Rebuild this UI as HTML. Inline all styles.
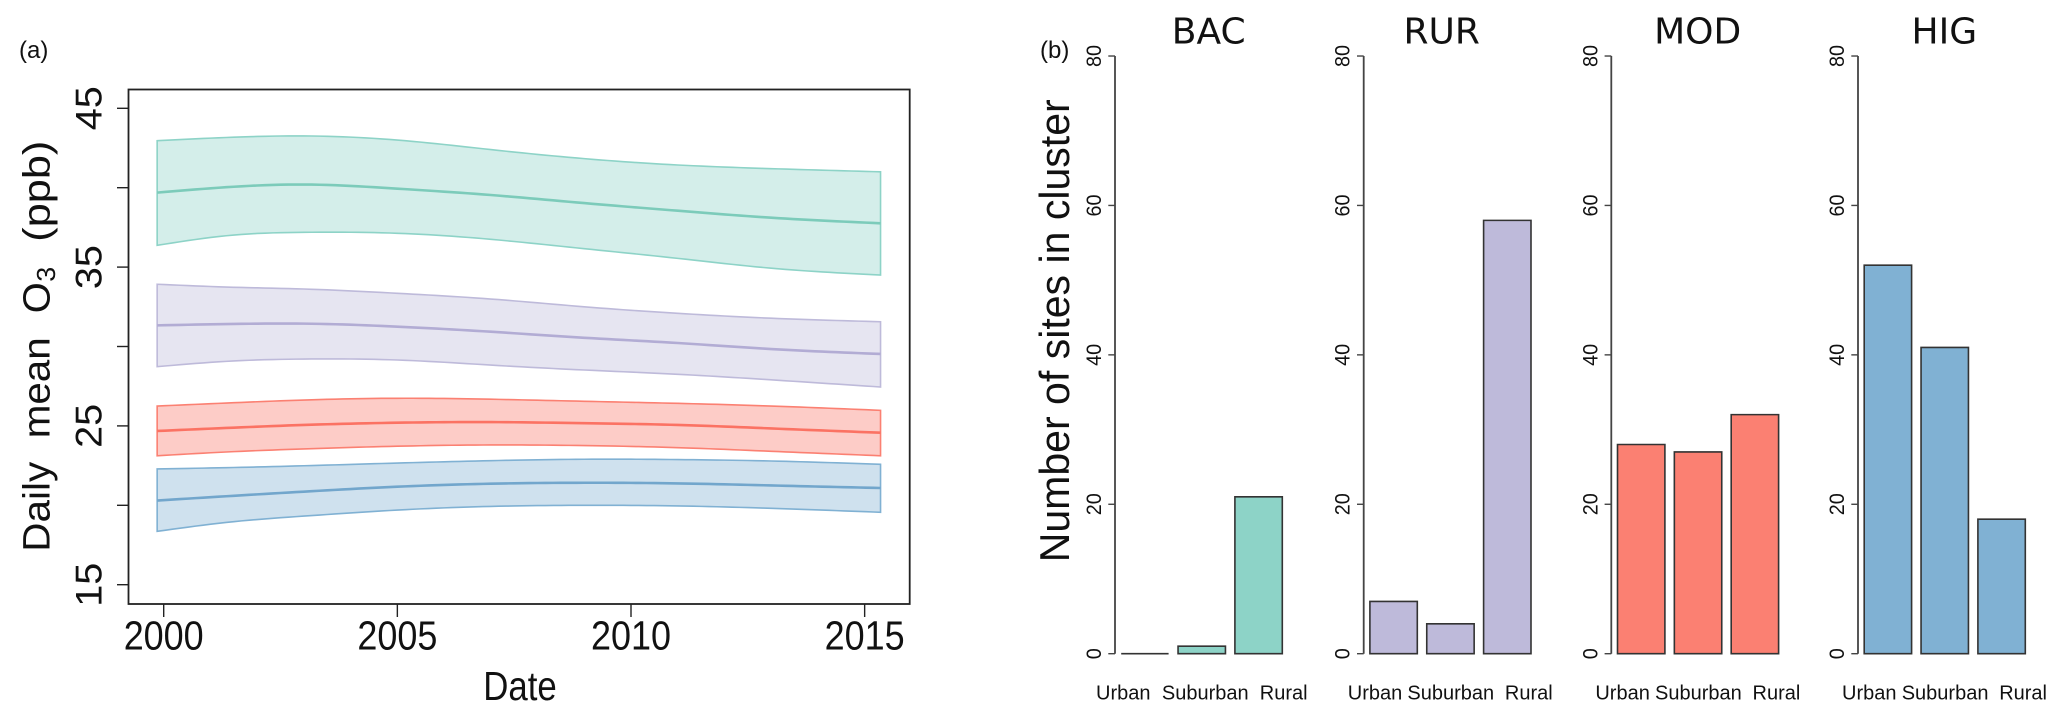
<!DOCTYPE html>
<html lang="en">
<head>
<meta charset="utf-8">
<title>Daily mean ozone trends and site counts by cluster</title>
<style>
html,body{margin:0;padding:0;background:#fff;width:2067px;height:718px;overflow:hidden}
svg{display:block}
text{font-family:"Liberation Sans",Arial,sans-serif;fill:#111}
.ver{font-family:"DejaVu Sans",Verdana,sans-serif}
</style>
</head>
<body>
<svg id="figure" xmlns="http://www.w3.org/2000/svg" width="2067" height="718" viewBox="0 0 2067 718">
  <rect x="0" y="0" width="2067" height="718" fill="#fff"/>
  <text x="19" y="58" font-size="24">(a)</text>
  <text x="1040" y="58" font-size="24">(b)</text>
  <g id="panel-a">
    <rect x="128.5" y="89.5" width="781.2" height="514.5" fill="none" stroke="#222" stroke-width="1.8"/>
    <g id="bands"></g>
    <g id="a-axes"></g>
    <text x="520" y="700" font-size="41" text-anchor="middle" textLength="73.5" lengthAdjust="spacingAndGlyphs">Date</text>
    <g>
      <text transform="translate(49.3,551.7) rotate(-90)" font-size="38" textLength="90" lengthAdjust="spacingAndGlyphs">Daily</text>
      <text transform="translate(49.3,438.3) rotate(-90)" font-size="38" textLength="101" lengthAdjust="spacingAndGlyphs">mean</text>
      <text transform="translate(49.3,313.3) rotate(-90)" font-size="38" textLength="31" lengthAdjust="spacingAndGlyphs">O</text>
      <text transform="translate(55,281.7) rotate(-90)" font-size="26" textLength="15" lengthAdjust="spacingAndGlyphs">3</text>
      <text transform="translate(49.3,241.7) rotate(-90)" font-size="38" textLength="101" lengthAdjust="spacingAndGlyphs">(ppb)</text>
    </g>
  </g>
  <g id="panel-b">
    <text transform="translate(1069,562.3) rotate(-90)" font-size="42" textLength="463" lengthAdjust="spacingAndGlyphs">Number of sites in cluster</text>
  </g>
</svg>
<script>
// ----- Panel (a) data: daily mean O3 (ppb) -----
const years = [1999.86, 2001.5, 2003, 2005, 2007, 2009, 2011, 2013, 2015.34];
const bacUpper = [42.96, 43.18, 43.26, 43.0, 42.4, 41.83, 41.43, 41.2, 41.0];
const bacMean  = [39.69, 40.06, 40.2, 39.94, 39.54, 39.03, 38.55, 38.11, 37.76];
const bacLower = [36.37, 37.02, 37.19, 37.13, 36.75, 36.16, 35.55, 34.93, 34.5];
const rurUpper = [33.92, 33.73, 33.62, 33.35, 32.99, 32.5, 32.09, 31.78, 31.56];
const rurMean  = [31.33, 31.42, 31.44, 31.25, 30.93, 30.55, 30.22, 29.84, 29.53];
const rurLower = [28.73, 29.09, 29.21, 29.15, 28.83, 28.52, 28.25, 27.9, 27.45];
const modUpper = [26.25, 26.46, 26.63, 26.74, 26.68, 26.55, 26.42, 26.25, 25.98];
const modMean  = [24.68, 24.89, 25.06, 25.2, 25.24, 25.17, 25.06, 24.84, 24.57];
const modLower = [23.12, 23.38, 23.55, 23.72, 23.8, 23.76, 23.63, 23.4, 23.12];
const higUpper = [22.29, 22.38, 22.49, 22.66, 22.81, 22.9, 22.88, 22.79, 22.58];
const higMean  = [20.3, 20.6, 20.86, 21.17, 21.36, 21.42, 21.38, 21.25, 21.09];
const higLower = [18.36, 18.97, 19.32, 19.7, 19.93, 20.0, 19.96, 19.81, 19.56];
const xTickLabels = [2000, 2005, 2010, 2015];
const yTicks = [15, 20, 25, 30, 35, 40, 45];
const yTickLabels = [15, 25, 35, 45];

// ----- Panel (b) data: number of sites -----
const clusters = ['BAC', 'RUR', 'MOD', 'HIG'];
const siteTypes = ['Urban', 'Suburban', 'Rural'];
const bacCounts = [0, 1, 21];
const rurCounts = [7, 4, 58];
const modCounts = [28, 27, 32];
const higCounts = [52, 41, 18];
const countTicks = [0, 20, 40, 60, 80];

const NS = 'http://www.w3.org/2000/svg';
const COLORS = {BAC: '#8dd3c7', RUR: '#bebada', MOD: '#fb8072', HIG: '#80b1d3'};
const MEAN_COLORS = {BAC: '#7ccbba', RUR: '#b2acd4', MOD: '#fb7263', HIG: '#72a6cc'};

// axis functions
function xScale(year) { return 163.7 + (year - 2000) * 46.73; }
function yScale(ppb) { return 108.3 + (45 - ppb) * 15.88; }
function countScale(n) { return 653.7 - n * 7.471; }

function mk(tag, parent) {
  const el = document.createElementNS(NS, tag);
  parent.appendChild(el);
  return el;
}

// natural cubic spline through the read values, evaluated on a fine year step
function smooth(values) {
  const n = years.length, h = [], a = new Array(n).fill(0), c = new Array(n).fill(0), m = new Array(n).fill(0);
  for (let i = 0; i < n - 1; i++) { h[i] = years[i + 1] - years[i]; }
  const d = new Array(n).fill(0), b = new Array(n).fill(1);
  for (let i = 1; i < n - 1; i++) {
    a[i] = h[i - 1];
    b[i] = 2 * (h[i - 1] + h[i]);
    c[i] = h[i];
    d[i] = 6 * ((values[i + 1] - values[i]) / h[i] - (values[i] - values[i - 1]) / h[i - 1]);
  }
  for (let i = 1; i < n; i++) {
    const f = a[i] / b[i - 1];
    b[i] -= f * c[i - 1];
    d[i] -= f * d[i - 1];
  }
  m[n - 1] = d[n - 1] / b[n - 1];
  for (let i = n - 2; i >= 0; i--) { m[i] = (d[i] - c[i] * m[i + 1]) / b[i]; }
  const pts = [];
  for (let i = 0; i < n - 1; i++) {
    const steps = Math.ceil(h[i] * 6);
    for (let s = 0; s < steps; s++) {
      const t = years[i] + h[i] * s / steps;
      const A = (years[i + 1] - t) / h[i], B = (t - years[i]) / h[i];
      const v = A * values[i] + B * values[i + 1] + ((A * A * A - A) * m[i] + (B * B * B - B) * m[i + 1]) * h[i] * h[i] / 6;
      pts.push([xScale(t), yScale(v)]);
    }
  }
  pts.push([xScale(years[n - 1]), yScale(values[n - 1])]);
  return pts;
}
function pointsToPath(pts) {
  return pts.map(function (p, i) {
    return (i ? 'L' : 'M') + p[0].toFixed(2) + ' ' + p[1].toFixed(2);
  }).join(' ');
}

// bands and mean lines
const bandsGroup = document.getElementById('bands');
function drawBand(key, upper, mean, lower) {
  const color = COLORS[key];
  const up = smooth(upper), low = smooth(lower).reverse(), mid = smooth(mean);
  const band = mk('path', bandsGroup);
  
  
  band.setAttribute('d', pointsToPath(up.concat(low)) + ' Z');
  band.setAttribute('fill', color);
  band.setAttribute('fill-opacity', key === 'MOD' ? '0.4' : '0.38');
  band.setAttribute('stroke', color);
  band.setAttribute('stroke-width', '1.6');
  band.setAttribute('stroke-linejoin', 'miter');
  const line = mk('path', bandsGroup);
  
  
  line.setAttribute('d', pointsToPath(mid));
  line.setAttribute('fill', 'none');
  line.setAttribute('stroke', MEAN_COLORS[key]);
  line.setAttribute('stroke-width', '2.6');
}
drawBand('BAC', bacUpper, bacMean, bacLower);
drawBand('RUR', rurUpper, rurMean, rurLower);
drawBand('MOD', modUpper, modMean, modLower);
drawBand('HIG', higUpper, higMean, higLower);

// panel (a) axes
const aAxes = document.getElementById('a-axes');
xTickLabels.forEach(function (label) {
  const x = xScale(label);
  const tick = mk('line', aAxes);
  
  
  tick.setAttribute('x1', x); tick.setAttribute('x2', x);
  tick.setAttribute('y1', 604); tick.setAttribute('y2', 617);
  tick.setAttribute('stroke', '#222'); tick.setAttribute('stroke-width', '1.4');
  const text = mk('text', aAxes);
  
  
  text.setAttribute('x', x); text.setAttribute('y', 649.3);
  text.setAttribute('font-size', '41');
  text.setAttribute('text-anchor', 'middle');
  text.setAttribute('textLength', '80');
  text.setAttribute('lengthAdjust', 'spacingAndGlyphs');
  text.textContent = label;
});
yTicks.forEach(function (value) {
  const y = yScale(value);
  const tick = mk('line', aAxes);
  
  
  tick.setAttribute('x1', 117); tick.setAttribute('x2', 128.5);
  tick.setAttribute('y1', y); tick.setAttribute('y2', y);
  tick.setAttribute('stroke', '#222'); tick.setAttribute('stroke-width', '1.4');
});
yTickLabels.forEach(function (value) {
  const text = mk('text', aAxes);
  
  
  text.setAttribute('transform', 'translate(101.7,' + yScale(value) + ') rotate(-90)');
  text.setAttribute('font-size', '37');
  text.setAttribute('text-anchor', 'middle');
  text.setAttribute('textLength', '44');
  text.setAttribute('lengthAdjust', 'spacingAndGlyphs');
  text.textContent = value;
});

// panel (b) small multiples
const panelB = document.getElementById('panel-b');
const axisLeft = {BAC: 1115, RUR: 1363.7, MOD: 1611.3, HIG: 1858};
const titleCenter = {BAC: 1208.7, RUR: 1441.7, MOD: 1697.7, HIG: 1944.3};
function labelShift(key, index) {
  if (key === 'BAC') { return index === 0 ? 8.3 : index === 1 ? 90.3 : 168.7; }
  return index === 0 ? 11.3 : index === 1 ? 87.1 : 165.1;
}
function drawPanel(key, counts) {
  const left = axisLeft[key];
  const g = mk('g', panelB);
  
  

  const title = mk('text', g);
  
  
  title.setAttribute('class', 'ver');
  title.setAttribute('x', titleCenter[key]); title.setAttribute('y', 43.3);
  title.setAttribute('font-size', '36');
  title.setAttribute('text-anchor', 'middle');
  title.textContent = key;

  const axis = mk('line', g);
  
  
  axis.setAttribute('x1', left); axis.setAttribute('x2', left);
  axis.setAttribute('y1', countScale(80)); axis.setAttribute('y2', countScale(0));
  axis.setAttribute('stroke', '#444'); axis.setAttribute('stroke-width', '1.8');

  countTicks.forEach(function (value) {
    const y = countScale(value);
    const tick = mk('line', g);
    
    
    tick.setAttribute('x1', left - 6.7); tick.setAttribute('x2', left);
    tick.setAttribute('y1', y); tick.setAttribute('y2', y);
    tick.setAttribute('stroke', '#444'); tick.setAttribute('stroke-width', '1.4');
    const text = mk('text', g);
    
    
    text.setAttribute('transform', 'translate(' + (left - 14) + ',' + y + ') rotate(-90)');
    text.setAttribute('font-size', '21');
    text.setAttribute('text-anchor', 'middle');
    text.setAttribute('textLength', value === 0 ? '11' : '22');
    text.setAttribute('lengthAdjust', 'spacingAndGlyphs');
    text.textContent = value;
  });

  counts.forEach(function (count, i) {
    const x = left + 6.2 + i * 56.85;
    const top = countScale(count), base = countScale(0);
    const bar = mk('path', g);
    
    
    bar.setAttribute('d', 'M' + x + ' ' + base + ' V' + top + ' H' + (x + 47.4) + ' V' + base + ' Z');
    bar.setAttribute('fill', COLORS[key]);
    bar.setAttribute('stroke', '#333'); bar.setAttribute('stroke-width', '1.6');
  });

  siteTypes.forEach(function (name, i) {
    const text = mk('text', g);
    
    
    text.setAttribute('x', left + labelShift(key, i)); text.setAttribute('y', 699.3);
    text.setAttribute('font-size', '20');
    text.setAttribute('text-anchor', 'middle');
    text.textContent = name;
  });
}
drawPanel('BAC', bacCounts);
drawPanel('RUR', rurCounts);
drawPanel('MOD', modCounts);
drawPanel('HIG', higCounts);
</script>
</body>
</html>
